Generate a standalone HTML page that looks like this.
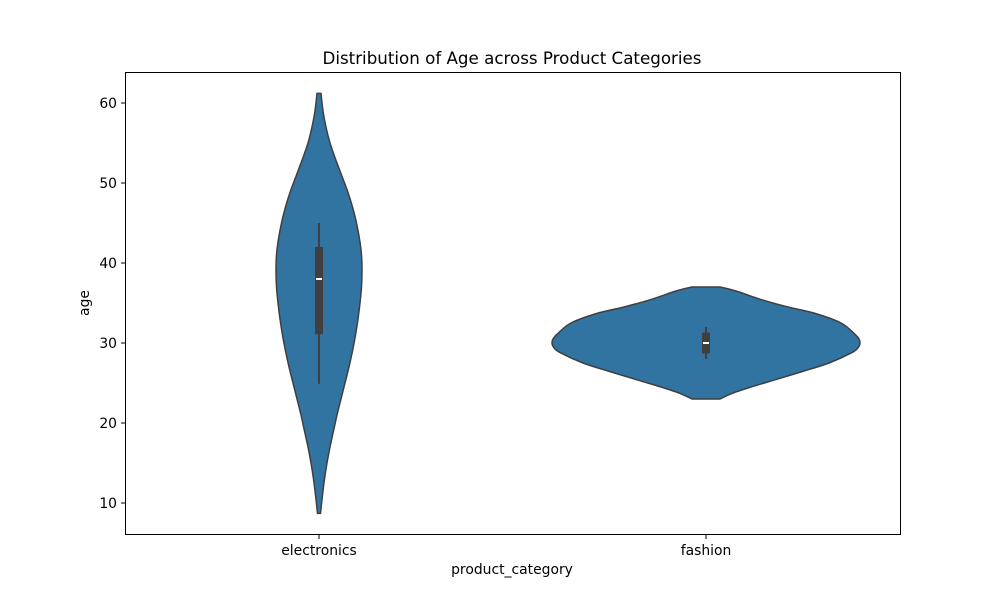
<!DOCTYPE html>
<html><head><meta charset="utf-8"><style>
body{margin:0;background:#fff;font-family:"DejaVu Sans","Liberation Sans",sans-serif}
</style></head><body>
<svg id="chart" width="1000" height="600" xmlns="http://www.w3.org/2000/svg" font-family="DejaVu Sans, Liberation Sans, sans-serif">
<rect width="1000" height="600" fill="#fff"/>
<text x="512" y="64" text-anchor="middle" font-size="16.7">Distribution of Age across Product Categories</text>
<g id="ticks"></g>
<g id="marks"></g>
<rect x="125.5" y="72.5" width="775" height="462" fill="none" stroke="#000" stroke-width="1"/>
<text x="512" y="574" text-anchor="middle" font-size="13.9">product_category</text>
<text transform="translate(89,303) rotate(-90)" text-anchor="middle" font-size="13.9">age</text>
</svg>
<script>
const categories = ["electronics", "fashion"];
const yTicks = [10, 20, 30, 40, 50, 60];
const elecAges = [61.2, 59, 57, 55, 53, 51, 49, 47, 45, 43, 41, 39, 37, 35, 33, 31, 29, 27, 25, 23, 21, 19, 17, 15, 13, 11, 8.7];
const elecHalf = [2, 4, 7, 11, 16.5, 22.5, 28.5, 33.5, 37.5, 40.5, 42.5, 43, 42.5, 41, 39, 36.5, 33.5, 30, 26, 22, 18, 14.5, 11, 8, 5.5, 3.5, 1.5];
const fashAges = [37, 36.5, 35.4, 34.5, 33.7, 32.5, 31.2, 30.6, 30, 29.4, 28.8, 27.5, 26.5, 25.4, 24.5, 23.7, 23];
const fashHalf = [14, 30, 56, 82, 109, 135, 148, 152.5, 154, 152, 146, 123, 98, 69, 45, 26, 14];
const boxStats = [
  {wlo: 24.9, q1: 31.1, med: 38, q3: 42, whi: 45},
  {wlo: 28, q1: 28.7, med: 30, q3: 31.3, whi: 32}
];
const ageData = [[elecAges, elecHalf], [fashAges, fashHalf]];

const NS = "http://www.w3.org/2000/svg";
const y = v => 103 + (60 - v) * 8;
const x = i => 319 + i * 387;
function mk(tag, attrs, parent) {
  const e = document.createElementNS(NS, tag);
  for (const k in attrs) e.setAttribute(k, attrs[k]);
  parent.appendChild(e);
  return e;
}
const ticks = document.getElementById('ticks');
const marks = document.getElementById('marks');

yTicks.forEach(t => {
  const l = mk('line', {x1: 121, x2: 125, y1: y(t), y2: y(t), stroke: '#000'}, ticks);
  
  
  const tx = mk('text', {x: 117, y: y(t) + 5, 'text-anchor': 'end', 'font-size': 13.9}, ticks);
  tx.textContent = t;
  
  
});
categories.forEach((c, i) => {
  const l = mk('line', {x1: x(i), x2: x(i), y1: 535, y2: 539, stroke: '#000'}, ticks);
  
  
  const tx = mk('text', {x: x(i), y: 555, 'text-anchor': 'middle', 'font-size': 13.9}, ticks);
  tx.textContent = c;
  
  
});

function spline(pts) {
  let d = `M${pts[0][0]},${pts[0][1]}`;
  for (let i = 0; i < pts.length - 1; i++) {
    const p0 = pts[Math.max(0, i - 1)], p1 = pts[i], p2 = pts[i + 1], p3 = pts[Math.min(pts.length - 1, i + 2)];
    const c1 = [p1[0] + (p2[0] - p0[0]) / 6, p1[1] + (p2[1] - p0[1]) / 6];
    const c2 = [p2[0] - (p3[0] - p1[0]) / 6, p2[1] - (p3[1] - p1[1]) / 6];
    d += ` C${c1[0]},${c1[1]} ${c2[0]},${c2[1]} ${p2[0]},${p2[1]}`;
  }
  return d;
}

ageData.forEach(([ages, half], i) => {
  const cx = x(i);
  const right = ages.map((a, k) => [cx + half[k], y(a)]);
  const left = ages.map((a, k) => [cx - half[k], y(a)]).reverse();
  let d = spline(right) + ' L' + left[0][0] + ',' + left[0][1] + spline(left).replace(/^M[^C]*/, ' ') + ' Z';
  const p = mk('path', {d: d, fill: '#3274a1', stroke: '#3f3f3f', 'stroke-width': 1.5}, marks);
  
  
  const b = boxStats[i];
  const w = mk('line', {x1: cx, x2: cx, y1: y(b.whi), y2: y(b.wlo), stroke: '#3f3f3f', 'stroke-width': 2}, marks);
  
  
  const r = mk('rect', {x: cx - 4, y: y(b.q3), width: 8, height: y(b.q1) - y(b.q3), fill: '#3f3f3f'}, marks);
  
  
  const m = mk('line', {x1: cx - 3, x2: cx + 3, y1: y(b.med), y2: y(b.med), stroke: '#fff', 'stroke-width': 2}, marks);
  
  
});
</script>
</body></html>
